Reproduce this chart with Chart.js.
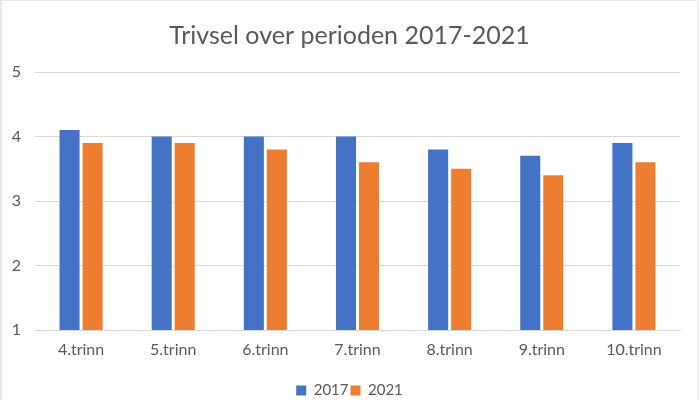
<!DOCTYPE html>
<html>
<head>
<meta charset="utf-8">
<script src="https://cdn.jsdelivr.net/npm/chart.js@4/dist/chart.umd.min.js"></script>
<style>
  html, body { margin: 0; padding: 0; background: #fff; }
  #wrap { width: 699px; height: 400px; position: relative; box-sizing: border-box; border-left: 2px solid #e6e6e6; border-top: 1px solid #e6e6e6; border-right: 2px solid #eeeeee; }
</style>
</head>
<body>
<div id="wrap"><canvas id="chart"></canvas></div>
<script>
const categories = ['4.trinn', '5.trinn', '6.trinn', '7.trinn', '8.trinn', '9.trinn', '10.trinn'];
const values2017 = [4.1, 4.0, 4.0, 4.0, 3.8, 3.7, 3.9];
const values2021 = [3.9, 3.9, 3.8, 3.6, 3.5, 3.4, 3.6];
const yTicks = [1, 2, 3, 4, 5];

const fontFamily = 'Lato, "Open Sans", sans-serif';
const textColor = '#595959';

const ctx = document.getElementById('chart').getContext('2d');

new Chart(ctx, {
    type: 'bar',
    data: {
        labels: categories,
        datasets: [{
            label: '2017',
            data: values2017,
            backgroundColor: '#4472c4'
        }, {
            label: '2021',
            data: values2021,
            backgroundColor: '#ed7d31'
        }]
    },
    options: {
        responsive: true,
        maintainAspectRatio: false,
        animation: false,
        layout: {
            padding: { left: 0, right: 0, top: 0, bottom: -8 }
        },
        datasets: {
            bar: { categoryPercentage: 0.5, barPercentage: 0.87 }
        },
        plugins: {
            title: {
                display: true,
                text: 'Trivsel over perioden 2017-2021',
                color: textColor,
                font: { family: fontFamily, size: 25, weight: 'normal' },
                padding: { top: 20, bottom: 21 }
            },
            legend: {
                position: 'bottom',
                labels: {
                    color: textColor,
                    font: { family: fontFamily, size: 15 },
                    boxWidth: 10,
                    boxHeight: 10,
                    padding: 2
                }
            },
            tooltip: { enabled: false }
        },
        scales: {
            x: {
                grid: { display: false },
                border: { color: '#d9d9d9' },
                clip: false,
                ticks: {
                    color: textColor,
                    font: { family: fontFamily, size: 16 },
                    padding: 2
                },
                afterFit: axis => { axis.height = 51; }
            },
            y: {
                min: 1,
                max: 5,
                afterBuildTicks: axis => {
                    axis.ticks = yTicks.map(v => ({ value: v }));
                },
                grid: { color: '#d9d9d9', drawTicks: false },
                border: { display: false },
                ticks: {
                    color: textColor,
                    font: { family: fontFamily, size: 16 },
                    padding: 14
                },
                afterFit: axis => { axis.width = 33; }
            },
            // empty right axis that only reserves the white margin
            yRight: {
                position: 'right',
                min: 1,
                max: 5,
                grid: { display: false },
                border: { display: false },
                ticks: { display: false },
                afterFit: axis => { axis.width = 17; }
            }
        }
    }
});
</script>
</body>
</html>
